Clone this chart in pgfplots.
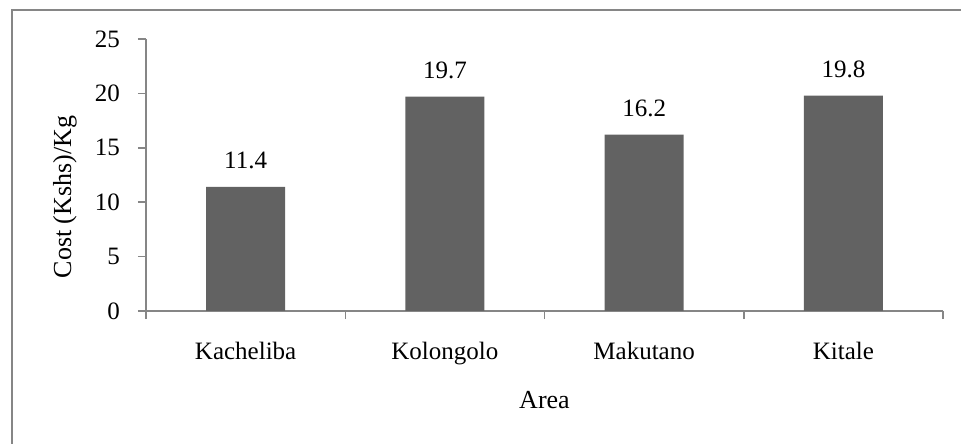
\documentclass[border=0pt]{standalone}
\usepackage{fontspec}
\setmainfont{Liberation Serif}
\usepackage{pgfplots}
\pgfplotsset{compat=1.18}
\definecolor{bargray}{HTML}{626262}
\definecolor{axgray}{HTML}{868686}
\begin{document}
\begin{tikzpicture}
\useasboundingbox (0pt,0pt) rectangle (961pt,444pt);
\draw[axgray, line width=2pt] (12pt,-5pt)--(12pt,434pt)--(966pt,434pt);
\begin{axis}[
  at={(146pt,133pt)}, anchor=south west,
  scale only axis, width=797pt, height=272pt,
  xmin=-0.5, xmax=3.5, ymin=0, ymax=25,
  ytick={0,5,...,25},
  xtick={0,1,2,3}, xticklabels={Kacheliba,Kolongolo,Makutano,Kitale},
  minor xtick={-0.5,0.5,1.5,2.5,3.5},
  axis x line=bottom, axis y line=left,
  axis line style={-, axgray, line width=1.5pt},
  tick align=outside, major tick length=8pt, minor tick length=8pt,
  tick style={axgray, line width=1.5pt},
  major x tick style={draw=none},
  /pgf/number format/assume math mode=true,
  every tick label/.append style={font=\fontsize{25}{30}\selectfont},
  xticklabel style={inner sep=0pt, anchor=north, yshift=-23pt},
  yticklabel style={inner sep=0pt, anchor=east, xshift=-18pt},
  xlabel={Area}, ylabel={Cost (Kshs)/Kg},
  label style={font=\fontsize{26}{31}\selectfont, inner sep=0pt},
  xlabel style={at={(axis description cs:0.5,-0.328)}, anchor=center},
  ylabel style={at={(axis description cs:-0.1016,0.419)}, anchor=center},
  ybar, bar width=79pt,
  nodes near coords,
  nodes near coords style={font=\fontsize{25}{30}\selectfont, inner sep=0pt, anchor=south, yshift=18pt},
]
\addplot[fill=bargray, draw=none] coordinates {(0,11.4) (1,19.7) (2,16.2) (3,19.8)};
\end{axis}
\end{tikzpicture}
\end{document}
